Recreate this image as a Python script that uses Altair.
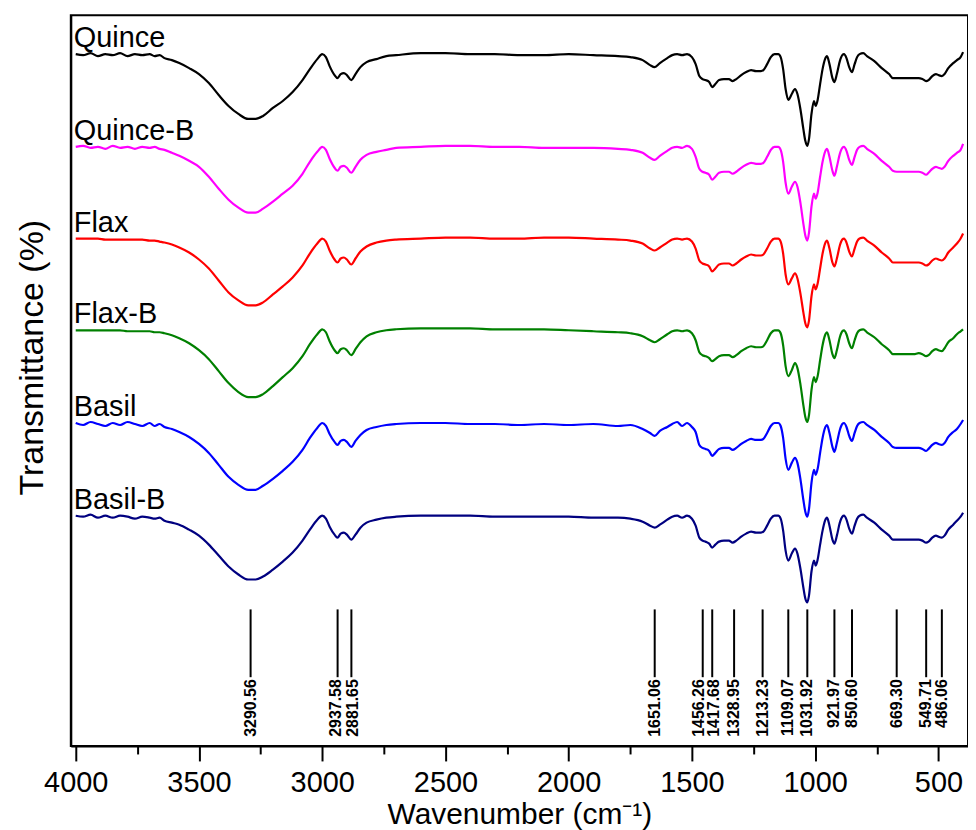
import altair as alt
import pandas as pd

# ---- data ----
SERIES = ["Quince", "Quince-B", "Flax", "Flax-B", "Basil", "Basil-B"]
COLORS = ["#000000", "#ff00ff", "#ff0000", "#008000", "#0000ff", "#000080"]
OFFSETS = [694, 601, 509, 417, 324, 231]  # vertical stacking offsets (a.u.)

WN = [4000, 3970, 3940, 3910, 3880, 3850, 3820, 3790, 3760, 3730,
      3700, 3680, 3660, 3640, 3610, 3580, 3540, 3500, 3460, 3420,
      3380, 3340, 3300, 3270, 3240, 3200, 3160, 3120, 3080, 3050,
      3020, 3000, 2985, 2970, 2950, 2938, 2925, 2912, 2900, 2882,
      2865, 2845, 2820, 2780, 2740, 2700, 2600, 2500, 2400, 2300,
      2200, 2100, 2000, 1900, 1800, 1750, 1700, 1670, 1651, 1630,
      1600, 1580, 1560, 1540, 1520, 1500, 1485, 1470, 1457, 1445,
      1430, 1418, 1405, 1390, 1370, 1350, 1335, 1320, 1300, 1280,
      1260, 1240, 1220, 1210, 1195, 1180, 1165, 1150, 1140, 1130,
      1120, 1109, 1095, 1082, 1072, 1060, 1048, 1040, 1032, 1025,
      1015, 1005, 998, 990, 980, 970, 960, 952, 942, 930,
      922, 912, 900, 890, 883, 873, 862, 851, 840, 830,
      820, 805, 790, 760, 730, 700, 685, 669, 640, 600,
      580, 565, 550, 540, 525, 510, 500, 486, 475, 460,
      440, 425, 410, 400]

QUINCE = [0, -1, 1, -2, 0, -1, 1, -2, 0, -1,
          0, -2, -1, -4, -6, -9, -14, -20, -29, -41,
          -52, -60, -65, -65, -62, -54, -47, -38, -26, -15,
          -5, 0, -3, -12, -21, -24, -20, -19, -21, -26,
          -20, -13, -8, -5, -2, -1, 1, 1, 0, 0,
          -1, -1, 0, -1, -2, -3, -6, -11, -13, -9,
          -4, -1, 0, -1, 0, -3, -10, -22, -25, -26,
          -28, -33, -30, -26, -25, -25, -27, -25, -21, -18,
          -16, -17, -17, -16, -10, -3, 0, 0, -3, -15,
          -35, -46, -40, -35, -40, -55, -75, -87, -92, -85,
          -60, -47, -52, -46, -30, -15, -5, -2, -10, -24,
          -28, -20, -7, -1, 0, -4, -13, -18, -10, -3,
          0, 1, -2, -7, -14, -20, -24, -24, -24, -24,
          -24, -25, -27, -26, -22, -20, -21, -22, -20, -14,
          -9, -6, -3, 2]

QUINCE_B = [0, 1, -1, 0, -2, 1, -1, 0, -2, 0,
            -1, 0, -2, -3, -6, -9, -14, -20, -30, -42,
            -53, -61, -66, -66, -62, -55, -47, -39, -27, -15,
            -5, 0, -3, -12, -21, -24, -20, -19, -21, -26,
            -20, -13, -8, -5, -3, -1, 0, 1, 1, 0,
            0, -1, -1, -1, -2, -3, -6, -11, -13, -9,
            -4, -1, 0, -1, 1, -2, -10, -22, -25, -26,
            -28, -33, -30, -26, -25, -25, -27, -25, -21, -18,
            -16, -17, -17, -16, -10, -3, 0, 0, -3, -15,
            -36, -47, -40, -35, -40, -56, -77, -89, -94, -86,
            -60, -47, -52, -46, -30, -15, -5, -2, -10, -24,
            -29, -20, -7, -1, 0, -4, -13, -18, -10, -3,
            0, 1, -2, -7, -14, -20, -24, -25, -25, -25,
            -25, -26, -28, -26, -22, -20, -21, -22, -20, -14,
            -9, -6, -3, 3]

FLAX = [0, 0, 0, 0, -1, -1, -1, -1, -1, -1,
        -2, -2, -3, -4, -6, -9, -14, -21, -30, -42,
        -54, -62, -67, -67, -64, -56, -48, -39, -27, -15,
        -5, 0, -3, -12, -21, -24, -20, -19, -21, -26,
        -20, -13, -8, -4, -2, -1, 0, 1, 1, 0,
        0, 1, 1, 0, -1, -2, -5, -10, -12, -9,
        -4, -1, 0, -1, 0, -3, -10, -22, -25, -26,
        -28, -33, -30, -26, -25, -25, -27, -25, -21, -18,
        -16, -17, -17, -16, -10, -3, 0, 0, -3, -15,
        -36, -46, -40, -35, -40, -55, -74, -85, -89, -82,
        -58, -46, -51, -45, -30, -15, -5, -2, -10, -24,
        -28, -20, -7, -1, 0, -4, -13, -18, -10, -3,
        0, 1, -2, -7, -14, -20, -24, -24, -24, -24,
        -24, -25, -27, -26, -22, -20, -21, -22, -20, -14,
        -9, -5, 0, 5]

FLAX_B = [0, 0, 0, 0, 0, 0, 0, -1, -1, -1,
          -1, -2, -2, -3, -5, -8, -13, -20, -29, -41,
          -53, -62, -67, -67, -64, -56, -47, -38, -26, -14,
          -4, 1, -2, -11, -20, -23, -19, -18, -20, -25,
          -19, -12, -6, -2, 0, 1, 2, 2, 2, 1,
          1, 1, 0, -1, -2, -3, -6, -10, -12, -9,
          -4, -1, 0, -1, 0, -3, -10, -22, -25, -26,
          -28, -31, -29, -26, -25, -25, -27, -25, -21, -18,
          -16, -17, -17, -16, -10, -3, 0, 0, -3, -15,
          -36, -46, -40, -33, -38, -54, -75, -87, -92, -85,
          -60, -47, -52, -46, -30, -15, -5, -2, -10, -24,
          -28, -20, -7, -1, 0, -4, -13, -18, -10, -3,
          0, 1, -2, -7, -14, -20, -24, -24, -24, -24,
          -23, -24, -26, -25, -21, -19, -20, -21, -18, -12,
          -8, -4, -1, 1]

BASIL = [0, -2, 1, -1, -3, 0, -2, 1, -1, -3,
         0, -3, -1, -4, -6, -9, -14, -21, -30, -42,
         -54, -62, -67, -67, -63, -56, -48, -39, -27, -15,
         -5, 0, -3, -11, -19, -22, -18, -17, -19, -24,
         -18, -12, -7, -4, -2, -1, 0, 0, -1, -1,
         -2, -1, -2, -1, -3, -2, -6, -10, -13, -8,
         -4, -1, 1, -3, 0, -4, -9, -22, -25, -26,
         -28, -33, -30, -26, -25, -25, -27, -25, -21, -18,
         -16, -17, -17, -16, -10, -3, 0, 0, -3, -15,
         -36, -47, -40, -35, -40, -56, -77, -89, -94, -86,
         -60, -47, -52, -46, -30, -15, -5, -2, -10, -24,
         -29, -20, -7, -1, 0, -4, -13, -18, -10, -3,
         0, 1, -2, -7, -14, -20, -24, -25, -25, -25,
         -25, -26, -28, -26, -22, -20, -21, -22, -20, -14,
         -9, -6, -1, 3]

BASIL_B = [0, -1, 1, -2, 0, -2, 0, -1, -3, -1,
           -2, -3, -2, -5, -7, -9, -14, -20, -29, -40,
           -51, -59, -64, -64, -61, -54, -46, -37, -25, -14,
           -4, 0, -3, -11, -19, -22, -18, -17, -19, -24,
           -19, -12, -7, -4, -2, -1, 0, 0, 0, -1,
           -1, -1, -1, -2, -2, -3, -6, -10, -12, -9,
           -4, -1, 0, -2, 0, -3, -10, -22, -25, -26,
           -28, -32, -29, -26, -25, -25, -27, -25, -21, -18,
           -16, -17, -17, -16, -10, -3, 0, 0, -3, -15,
           -35, -45, -38, -33, -38, -53, -72, -83, -87, -80,
           -56, -45, -50, -44, -29, -15, -5, -2, -10, -24,
           -28, -20, -7, -1, 0, -4, -13, -18, -10, -3,
           0, 1, -2, -7, -14, -20, -24, -24, -24, -24,
           -24, -25, -27, -26, -22, -20, -21, -22, -20, -14,
           -9, -5, -1, 3]

SPECTRA = [QUINCE, QUINCE_B, FLAX, FLAX_B, BASIL, BASIL_B]

PEAK_WN = [3290.56, 2937.58, 2881.65, 1651.06, 1456.26, 1417.68, 1328.95,
           1213.23, 1109.07, 1031.92, 921.97, 850.60, 669.30, 549.71, 486.06]
PEAK_LABELS = ["3290.56", "2937.58", "2881.65", "1651.06", "1456.26", "1417.68",
               "1328.95", "1213.23", "1109.07", "1031.92", "921.97", "850.60",
               "669.30", "549.71", "486.06"]

# ---- tables ----
rows = []
for name, off, vals in zip(SERIES, OFFSETS, SPECTRA):
    for w, v in zip(WN, vals):
        rows.append({"series": name, "wn": w, "t": off + v})
df = pd.DataFrame(rows)

lab = pd.DataFrame({"series": SERIES, "wn": [4008] * len(SERIES),
                    "t": [o + 7 for o in OFFSETS]})
peaks = pd.DataFrame({"wn": PEAK_WN, "label": PEAK_LABELS})

FONT = "Liberation Sans"
xscale = alt.Scale(domain=[380, 4020], reverse=True, nice=False, zero=False)
yscale = alt.Scale(domain=[0, 733], nice=False, zero=False)

xaxis = alt.Axis(
    values=list(range(4000, 499, -250)),
    format="d",
    labelExpr="datum.value % 500 === 0 ? datum.label : ''",
    tickSize={"condition": {"test": "datum.value % 500 === 0", "value": 15}, "value": 8},
    labelFontSize=29, labelPadding=8, labelFlush=False, labelOverlap=False,
    grid=False, title="Wavenumber (cm⁻¹)", titleFontSize=30,
    titleY=78, titleBaseline="alphabetic",
)
yaxis = alt.Axis(
    ticks=False, labels=False, grid=False, title="Transmittance (%)",
    titleFontSize=34, titleX=-28, titleY=343, titleAngle=270,
    titleAlign="center", titleBaseline="alphabetic",
)

X = alt.X("wn:Q", scale=xscale, axis=xaxis)

lines = alt.Chart(df).mark_line(strokeWidth=2.2, interpolate="monotone").encode(
    x=X,
    y=alt.Y("t:Q", scale=yscale, axis=yaxis),
    color=alt.Color("series:N", scale=alt.Scale(domain=SERIES, range=COLORS), legend=None),
    order=alt.Order("wn:Q", sort="descending"),
    detail="series:N",
)

labels = alt.Chart(lab).mark_text(align="left", baseline="alphabetic", fontSize=29,
                                  font=FONT, color="black").encode(
    x=X,
    y=alt.Y("t:Q", scale=yscale, axis=yaxis),
    text="series:N",
)

rules = alt.Chart(peaks).mark_rule(strokeWidth=2, color="black").encode(
    x=X,
    y=alt.YDatum(137, scale=yscale, axis=yaxis),
    y2=alt.Y2Datum(69),
)

ptext_base = alt.Chart(peaks).encode(
    x=X,
    y=alt.YDatum(67, scale=yscale, axis=yaxis),
    text="label:N",
)
tstyle = dict(angle=270, align="right", baseline="middle", fontSize=16,
              fontWeight="bold", font=FONT, color="black")
# small sideways nudges so crowded labels stay readable, as in the reference
NUDGE = {"2937.58": -2, "2881.65": 2, "1456.26": -4, "1417.68": 2}
plain = " && ".join(f"datum.label != '{k}'" for k in NUDGE)
text_layers = [ptext_base.mark_text(**tstyle).transform_filter(plain)]
for k, d in NUDGE.items():
    text_layers.append(ptext_base.mark_text(dy=d, **tstyle)
                       .transform_filter(f"datum.label == '{k}'"))

chart = alt.layer(lines, labels, rules, *text_layers).properties(
    width=900, height=733,
    autosize=alt.AutoSizeParams(type="none"),
    padding={"left": 63, "top": 6, "right": 0, "bottom": 84},
).configure_view(stroke="black", strokeWidth=2).configure_axis(
    domainColor="black", domainWidth=2, tickColor="black", tickWidth=2,
    labelColor="black", titleColor="black", labelFont=FONT, titleFont=FONT,
    titleFontWeight="normal",
)

chart.save("out.html", embed_options={"renderer": "svg", "actions": False})
